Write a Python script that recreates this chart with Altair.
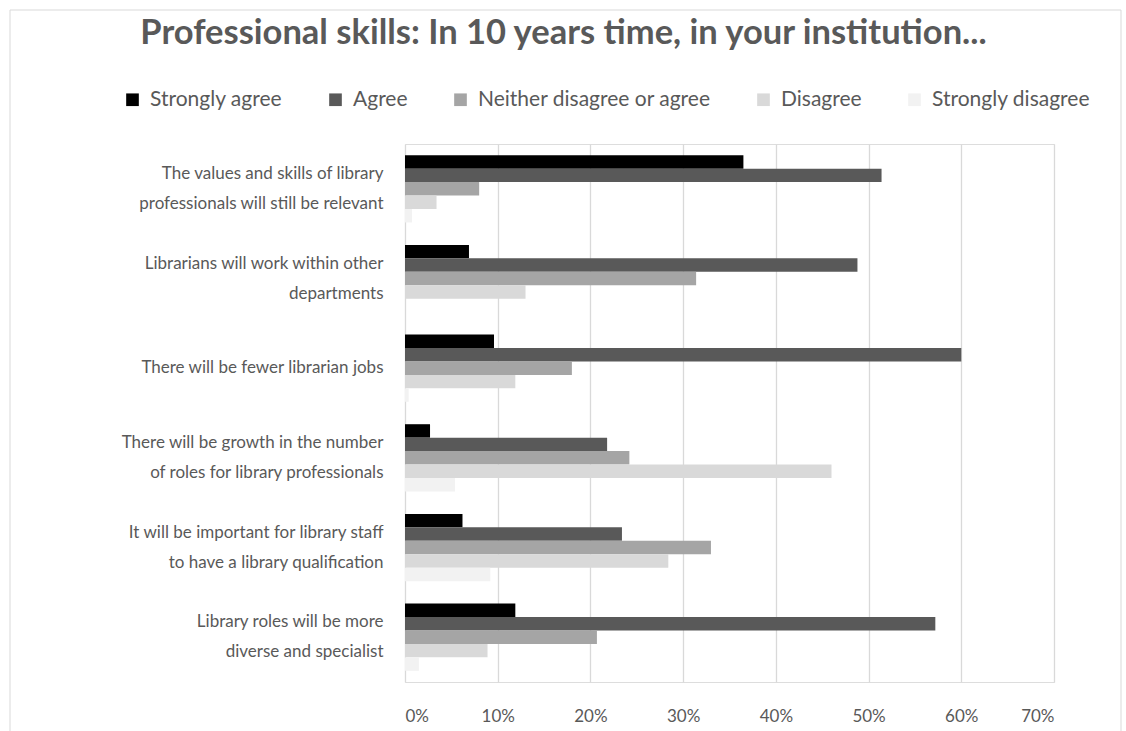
import altair as alt
import pandas as pd

categories = [
    "The values and skills of library\nprofessionals will still be relevant",
    "Librarians will work within other\ndepartments",
    "There will be fewer librarian jobs",
    "There will be growth in the number\nof roles for library professionals",
    "It will be important for library staff\nto have a library qualification",
    "Library roles will be more\ndiverse and specialist",
]
series = ["Strongly agree", "Agree", "Neither disagree or agree", "Disagree", "Strongly disagree"]
colors = ["#000000", "#595959", "#a5a5a5", "#d9d9d9", "#f2f2f2"]

strongly_agree = [36.5, 6.9, 9.6, 2.7, 6.2, 11.9]
agree = [51.4, 48.8, 60.0, 21.8, 23.4, 57.2]
neither = [8.0, 31.4, 18.0, 24.2, 33.0, 20.7]
disagree = [3.4, 13.0, 11.9, 46.0, 28.4, 8.9]
strongly_disagree = [0.75, 0.0, 0.4, 5.4, 9.2, 1.5]

values = [strongly_agree, agree, neither, disagree, strongly_disagree]
rows = []
for s, vals in zip(series, values):
    for c, v in zip(categories, vals):
        rows.append({"category": c, "series": s, "value": v / 100.0})
df = pd.DataFrame(rows)

FONT = "Lato"
TXT = "#595959"

bars = alt.Chart(df).mark_bar().encode(
    x=alt.X(
        "value:Q",
        scale=alt.Scale(domain=[0, 0.7], nice=False),
        axis=alt.Axis(
            format=".0%", values=[0, 0.1, 0.2, 0.3, 0.4, 0.5, 0.6, 0.7],
            title=None, domain=False, ticks=False, grid=True,
            gridColor="#d9d9d9", gridWidth=1.3,
            labelFont=FONT, labelFontSize=17, labelColor=TXT, labelPadding=26,
        ),
    ),
    y=alt.Y(
        "category:N", sort=categories,
        scale=alt.Scale(paddingInner=0.25, paddingOuter=0.125),
        axis=alt.Axis(
            title=None, domain=False, ticks=False, grid=False,
            labelExpr="split(datum.label, '\\n')",
            labelOffset=alt.condition("indexof(datum.value, '\\n') >= 0",
                                      alt.value(-15), alt.value(0)),
            labelFont=FONT, labelFontSize=17, labelColor=TXT, labelPadding=22,
            labelLimit=400, labelLineHeight=30,
        ),
    ),
    yOffset=alt.YOffset("series:N", sort=series,
                        scale=alt.Scale(paddingInner=0, paddingOuter=0)),
    color=alt.Color(
        "series:N", sort=series,
        scale=alt.Scale(domain=series, range=colors),
        legend=alt.Legend(
            title=None, orient="none", direction="horizontal",
            legendX=-283, legendY=-55,
            symbolType="square", symbolSize=160, symbolStrokeWidth=0,
            labelFont=FONT, labelFontSize=21, labelColor=TXT,
            columnPadding=42, labelOffset=7, labelLimit=400,
        ),
    ),
)

frame_df = pd.DataFrame({"k": [0]})
frame_top = alt.Chart(frame_df).mark_rule(color="#d9d9d9", strokeWidth=1).encode(
    x=alt.value(-395), x2=alt.value(716), y=alt.value(-134)
)
frame_left = alt.Chart(frame_df).mark_rule(color="#d9d9d9", strokeWidth=1).encode(
    x=alt.value(-395), y=alt.value(-134), y2=alt.value(600)
)
frame_right = alt.Chart(frame_df).mark_rule(color="#d9d9d9", strokeWidth=1).encode(
    x=alt.value(716), y=alt.value(-134), y2=alt.value(600)
)

chart = alt.layer(frame_top, frame_left, frame_right, bars).properties(
    width=649, height=538,
    title=alt.TitleParams(
        "Professional skills: In 10 years time, in your institution...",
        font=FONT, fontSize=34.5, fontWeight="bold", color=TXT,
        anchor="middle", dx=-166, offset=0, dy=42,
    ),
    autosize=alt.AutoSizeParams(type="none"),
    padding={"left": 405, "top": 144, "right": 72, "bottom": 49},
).configure_view(
    stroke="transparent", strokeWidth=0
).configure_axis(
    domain=False
).configure_axisX(
    domain=False
).configure_axisY(
    domain=False
).configure(background="white")

chart.save("out.html", embed_options={"renderer": "svg", "actions": False})
